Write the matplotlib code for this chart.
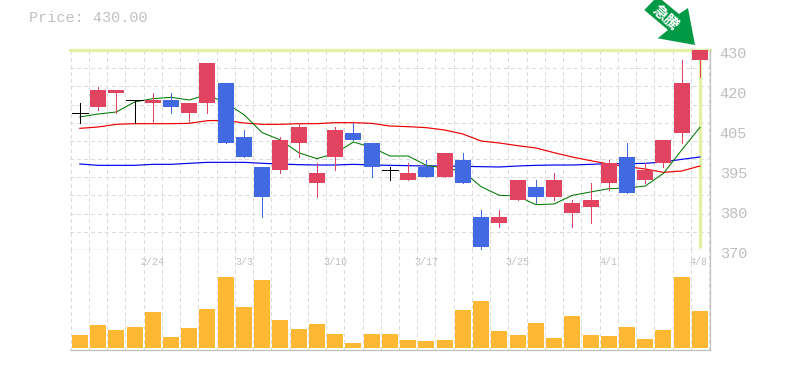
import numpy as np
import matplotlib
matplotlib.use('Agg')
import matplotlib.pyplot as plt
from matplotlib.patches import Polygon
from matplotlib.ticker import FixedLocator, NullFormatter
from matplotlib.transforms import ScaledTranslation

# daily prices
opens = [411, 413, 417, 415, 414, 415, 411, 414, 420, 404, 395, 394, 402, 390, 398, 405, 402, 394,
         391, 395, 392, 397, 380, 378, 385, 389, 386, 381, 383, 390, 398, 391, 396, 405, 427]
highs = [414, 419, 418, 415, 417, 417, 414, 426, 420, 406, 395, 404, 408, 396, 407, 408, 402, 395,
         396, 397, 399, 399, 382, 382, 391, 391, 393, 385, 390, 397, 402, 396, 403, 427, 430]
lows = [408, 412, 411, 408, 408, 411, 408, 411, 402, 398, 380, 393, 398, 386, 394, 403, 392, 391,
        391, 392, 392, 390, 370, 377, 385, 384, 385, 377, 378, 388, 387, 390, 395, 402, 422]
closes = [411, 418, 418, 415, 415, 413, 414, 426, 402, 398, 386, 403, 407, 393, 406, 403, 395, 394,
          393, 392, 399, 390, 371, 380, 391, 386, 391, 384, 385, 396, 387, 394, 403, 420, 430]
ma_short = [409.9, 410.8, 411.4, 414.4, 415.4, 415.8, 415.0, 416.6, 414.1, 410.6, 405.2, 403.0, 399.2, 397.4, 399.0,
            402.4, 400.8, 398.2, 398.2, 395.4, 394.6, 393.6, 389.0, 386.4, 386.2, 383.6, 383.8, 386.4, 387.4, 388.4,
            388.6, 389.2, 393.0, 400.0, 406.8]
ma_mid = [406.5, 406.9, 407.7, 407.9, 407.9, 407.9, 408.0, 408.8, 408.9, 408.1, 407.7, 407.7, 407.9, 407.9, 408.2,
          408.2, 408.0, 407.2, 407.0, 406.7, 406.0, 404.8, 402.7, 402.1, 401.3, 400.6, 399.2, 397.9, 396.8, 395.8,
          395.0, 394.3, 393.3, 393.7, 395.2]
ma_long = [395.8, 395.4, 395.4, 395.4, 395.7, 395.7, 396.0, 396.3, 396.3, 396.3, 396.0, 395.8, 395.6, 395.5, 395.5,
           395.7, 395.5, 395.4, 395.3, 395.2, 395.2, 395.1, 395.0, 394.9, 395.2, 395.4, 395.5, 395.5, 395.7, 395.9,
           395.9, 396.0, 396.4, 397.2, 397.9]
volumes = [13, 23, 18, 21, 36, 11, 20, 39, 71, 41, 68, 28, 19, 24, 14, 5, 14, 14,
           8, 7, 8, 38, 47, 17, 13, 25, 10, 32, 13, 12, 21, 9, 18, 71, 37]
date_idx = [4, 9, 14, 19, 24, 29, 34]
date_labels = ['2/24', '3/3', '3/10', '3/17', '3/25', '4/1', '4/8']
price_ticks = [370, 382, 394, 406, 418, 430]
price_labels = ['370', '380', '395', '405', '420', '430']

RED = '#E14461'
BLUE = '#4169E1'
GREY = '#C0C0C0'
GRIDC = '#DCDCDC'
YEL = '#E2F1A8'

W, H = 785.0, 370.0
fig = plt.figure(figsize=(7.85, 3.7), dpi=100)
ax = fig.add_axes([70 / W, 120 / H, 640 / W, 200 / H])
axv = fig.add_axes([70 / W, 20 / H, 640 / W, 100 / H])
over = fig.add_axes([0, 0, 1, 1])
over.set_xlim(0, W)
over.set_ylim(H, 0)
over.axis('off')

x = np.arange(len(closes))
edges = np.arange(len(closes) + 1) - 0.5
xlim = (-0.537, 34.55)

for a in (ax, axv):
	a.set_xlim(xlim)
	a.xaxis.set_minor_locator(FixedLocator(edges))
	a.xaxis.set_minor_formatter(NullFormatter())
	a.set_xticks([])
	a.tick_params(which='both', length=0)
	a.grid(True, which='minor', axis='x', color=GRIDC, lw=0.7, linestyle=(0, (4, 4)), zorder=0, antialiased=False)
	a.set_axisbelow(True)
	a.spines['left'].set_visible(False)
	a.spines['top'].set_visible(False)
	a.spines['right'].set_color(GREY)
	a.spines['bottom'].set_color(GREY)
	a.spines['right'].set_linewidth(0.9)
	a.spines['bottom'].set_linewidth(0.9)

# price panel
ax.set_ylim(370, 430)
ax.yaxis.set_minor_locator(FixedLocator(370 + np.arange(12) * 60 / 11))
ax.yaxis.set_minor_formatter(NullFormatter())
ax.grid(True, which='minor', axis='y', color=GRIDC, lw=0.7, linestyle=(0, (4, 4)), zorder=0, antialiased=False)
ax.yaxis.tick_right()
ax.set_yticks(price_ticks)
ax.set_yticklabels(price_labels, family='Liberation Mono', fontsize=11, color='#BEBEBE')
ax.tick_params(axis='y', which='major', length=0, pad=7)
shift = ScaledTranslation(0, -2 / 100, fig.dpi_scale_trans)
for t in ax.get_yticklabels():
	t.set_transform(t.get_transform() + shift)

ax.axhline(430, color=YEL, lw=2.4, clip_on=False, zorder=1)
ax.plot([x[-1], x[-1]], [370.6, 430], color=YEL, lw=2.4, zorder=1, solid_capstyle='butt')

ax.plot(x, ma_long, color='#0000EE', lw=0.85, zorder=2)
ax.plot(x, ma_mid, color='#EE0000', lw=0.85, zorder=2)
ax.plot(x, ma_short, color='#007A00', lw=0.75, zorder=2)

for i in x:
	o, h, l, c = opens[i], highs[i], lows[i], closes[i]
	if o == c:
		col = 'black'
		ax.hlines(c, i - 0.44, i + 0.44, color=col, lw=0.7, zorder=4, antialiased=False)
	else:
		col = RED if c > o else BLUE
		ax.bar(i, abs(c - o), bottom=min(o, c), width=0.877, color=col, lw=0, zorder=4, clip_on=False)
	ax.vlines(i, l, h, color=col, lw=0.7, zorder=3, clip_on=False, antialiased=False)

# volume panel
axv.set_ylim(-2, 98)
axv.set_yticks([])
axv.bar(x, volumes, width=0.877, color='#FFB833', lw=0, zorder=3)
for i, s in zip(date_idx, date_labels):
	dx = -0.1 if s == '4/8' else 0
	axv.text(i + dx, 86, s, ha='center', va='center', family='Liberation Mono', fontsize=7.2, color=GREY, zorder=4)

# header and badge
over.text(29, 18, 'Price: 430.00', family='Liberation Mono', fontsize=10.9, color=GREY, va='center', ha='left')
over.add_patch(Polygon([(644.3, 10), (654, 0), (662, 0), (679, 14), (688, 8), (695, 45), (657.7, 38.3), (668, 30)],
                       closed=True, fc='#009944', ec='none', clip_on=False))
over.text(666, 18, '急騰', family=['Noto Sans CJK JP', 'DejaVu Sans'], fontsize=10.8, fontweight='bold', color='white',
          rotation=-42, rotation_mode='anchor', ha='center', va='center')

fig.savefig('out.png', dpi=100)
